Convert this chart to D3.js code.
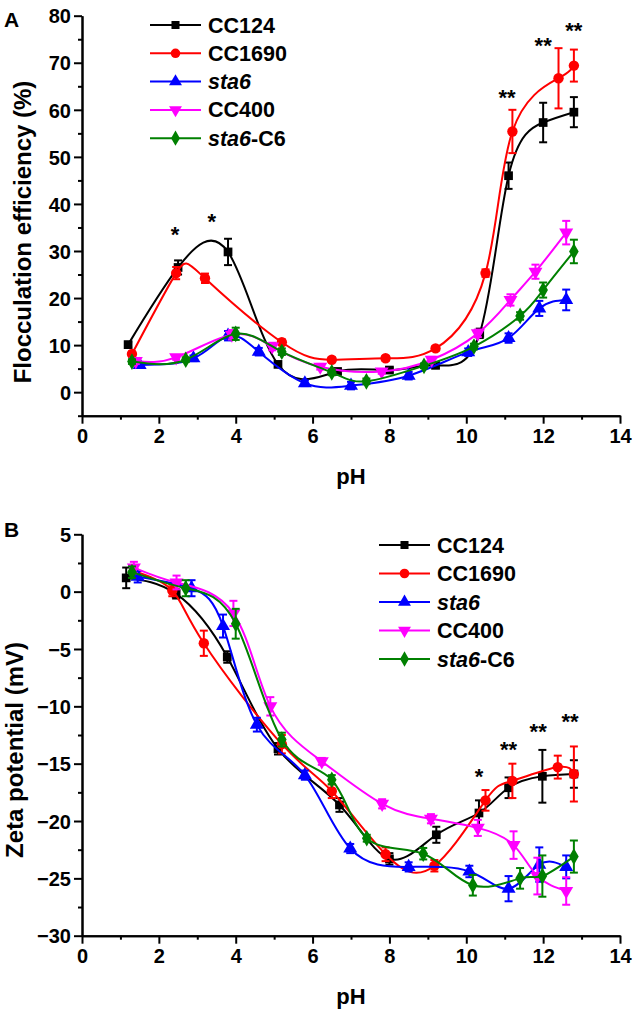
<!DOCTYPE html>
<html><head><meta charset="utf-8">
<script src="https://cdn.jsdelivr.net/npm/d3@7"></script>
<style>
body{margin:0;background:#fff;}
text{font-family:"Liberation Sans",Arial,sans-serif;font-weight:bold;}
</style></head>
<body><svg id="c" width="640" height="1012"></svg>
<script>
// ---------- data ----------
const seriesNames = ["CC124","CC1690","sta6","CC400","sta6-C6"];
const seriesColors = ["#000000","#ff0000","#0000ff","#ff00ff","#008000"];
const seriesSymbols = ["square","circle","triangle","triangleDown","diamond"];

// Panel A: flocculation efficiency (%)
const phA_CC124  = [1.2, 2.5, 3.8, 5.1, 6.65, 8.0, 9.2, 10.35, 11.1, 12.0, 12.8];
const valA_CC124 = [10.1, 26.5, 29.8, 5.9, 4.4, 4.7, 5.7, 12.5, 46.0, 57.3, 59.5];
const errA_CC124 = [0.6, 1.5, 2.8, 0.5, 0.5, 0.5, 0.5, 1.0, 2.8, 4.2, 3.2];
const phA_CC1690  = [1.3, 2.45, 3.2, 5.2, 6.5, 7.9, 9.2, 10.5, 11.2, 12.4, 12.8];
const valA_CC1690 = [8.1, 25.3, 24.2, 10.6, 6.9, 7.2, 9.3, 25.3, 55.4, 66.7, 69.4];
const errA_CC1690 = [0.5, 1.3, 1.0, 0.6, 0.5, 0.5, 0.5, 0.8, 4.6, 6.4, 3.4];
const phA_sta6  = [1.5, 2.9, 3.8, 4.6, 5.8, 7.0, 8.5, 10.05, 11.1, 11.9, 12.6];
const valA_sta6 = [5.8, 7.2, 12.0, 8.6, 1.9, 1.4, 3.5, 8.5, 11.5, 17.8, 19.6];
const errA_sta6 = [0.5, 0.6, 1.0, 0.8, 0.6, 0.8, 0.8, 0.8, 1.0, 1.6, 2.2];
const phA_CC400  = [1.4, 2.45, 3.9, 4.95, 6.2, 7.8, 9.1, 10.3, 11.15, 11.8, 12.6];
const valA_CC400 = [6.6, 7.4, 12.2, 9.7, 5.4, 4.4, 6.9, 12.5, 19.6, 25.6, 33.9];
const errA_CC400 = [0.6, 0.5, 1.0, 0.8, 0.6, 0.5, 0.6, 0.8, 1.2, 1.5, 2.5];
const phA_sta6C6  = [1.3, 2.7, 4.0, 5.2, 6.5, 7.4, 8.9, 10.2, 11.4, 12.0, 12.8];
const valA_sta6C6 = [6.5, 6.9, 12.4, 8.6, 4.2, 2.3, 5.6, 9.7, 16.2, 21.7, 29.9];
const errA_sta6C6 = [0.5, 0.5, 1.3, 0.7, 0.6, 0.6, 0.5, 0.6, 0.8, 1.6, 2.5];

// Panel B: zeta potential (mV)
const phB_CC124  = [1.15, 2.45, 3.78, 5.1, 6.7, 8.0, 9.22, 10.33, 11.1, 11.98, 12.8];
const valB_CC124 = [1.2, -0.2, -5.7, -13.7, -18.6, -23.3, -21.2, -19.3, -17.1, -16.1, -15.9];
const errB_CC124 = [0.9, 0.4, 0.5, 0.5, 0.6, 0.5, 0.7, 1.1, 0.9, 2.3, 1.2];
const phB_CC1690  = [1.35, 2.35, 3.17, 5.2, 6.5, 7.9, 9.17, 10.5, 11.2, 12.38, 12.8];
const valB_CC1690 = [1.8, 0.1, -4.5, -13.3, -17.4, -22.9, -23.9, -18.2, -16.5, -15.3, -15.9];
const errB_CC1690 = [0.5, 0.5, 1.1, 0.8, 0.6, 0.6, 0.5, 0.9, 1.5, 1.0, 2.4];
const phB_sta6  = [1.45, 2.85, 3.67, 4.55, 5.8, 6.98, 8.5, 10.08, 11.1, 11.9, 12.6];
const valB_sta6 = [1.3, 0.3, -3.0, -11.6, -16.0, -22.4, -24.0, -24.4, -25.9, -23.8, -24.0];
const errB_sta6 = [0.5, 0.7, 1.0, 0.6, 0.4, 0.4, 0.4, 0.5, 1.1, 1.5, 1.0];
const phB_CC400  = [1.35, 2.46, 3.94, 4.9, 6.24, 7.81, 9.08, 10.3, 11.23, 11.85, 12.6];
const valB_CC400 = [2.1, 0.8, -1.9, -10.0, -14.8, -18.5, -19.8, -20.6, -22.1, -24.8, -26.1];
const errB_CC400 = [0.5, 0.6, 1.1, 0.8, 0.3, 0.4, 0.4, 0.7, 1.2, 1.6, 1.2];
const phB_sta6C6  = [1.3, 2.7, 4.0, 5.2, 6.5, 7.41, 8.88, 10.17, 11.4, 11.98, 12.8];
const valB_sta6C6 = [1.7, 0.3, -2.8, -12.9, -16.4, -21.5, -22.85, -25.6, -25.0, -24.8, -23.1];
const errB_sta6C6 = [0.5, 0.7, 1.3, 0.6, 0.4, 0.3, 0.5, 0.9, 0.9, 1.8, 1.4];

// significance marks
const starsA_ph  = [2.42, 3.38, 11.06, 12.0, 12.8];
const starsA_val = [34.5, 37.3, 63.5, 74.7, 77.8];
const starsA_txt = ["*", "*", "**", "**", "**"];
const starsB_ph  = [10.33, 11.1, 11.87, 12.7];
const starsB_val = [-15.7, -13.4, -11.8, -10.95];
const starsB_txt = ["*", "**", "**", "**"];

// ticks
const xTicks = [0,2,4,6,8,10,12,14];
const xMinor = [1,3,5,7,9,11,13];
const yTicksA = [0,10,20,30,40,50,60,70,80];
const yMinorA = [-5,5,15,25,35,45,55,65,75];
const yTicksB = [-30,-25,-20,-15,-10,-5,0,5];
const yMinorB = [-27.5,-22.5,-17.5,-12.5,-7.5,-2.5,2.5];

// ---------- drawing ----------
const svg = d3.select("#c");
const symMap = {square:d3.symbolSquare, circle:d3.symbolCircle, triangle:d3.symbolTriangle, triangleDown:d3.symbolTriangle, diamond:d3.symbolDiamond};
const symSize = {square:76, circle:85, triangle:85, triangleDown:85, diamond:80};

function makeSeries(phs, vals, errs){ return phs.map((p,i)=>({x:p,y:vals[i],e:errs[i]})); }
const dataA = [
  makeSeries(phA_CC124,valA_CC124,errA_CC124),
  makeSeries(phA_CC1690,valA_CC1690,errA_CC1690),
  makeSeries(phA_sta6,valA_sta6,errA_sta6),
  makeSeries(phA_CC400,valA_CC400,errA_CC400),
  makeSeries(phA_sta6C6,valA_sta6C6,errA_sta6C6)];
const dataB = [
  makeSeries(phB_CC124,valB_CC124,errB_CC124),
  makeSeries(phB_CC1690,valB_CC1690,errB_CC1690),
  makeSeries(phB_sta6,valB_sta6,errB_sta6),
  makeSeries(phB_CC400,valB_CC400,errB_CC400),
  makeSeries(phB_sta6C6,valB_sta6C6,errB_sta6C6)];

function symbolPath(name, scale){
  return d3.symbol().type(symMap[name]).size(symSize[name]*(scale||1))();
}

function panel(cfg){
  const g = svg.append("g");
  const x = d3.scaleLinear().domain([0,14]).range([82,620]);
  const y = d3.scaleLinear().domain(cfg.yDomain).range(cfg.yRange);
  const y0 = cfg.yRange[0];

  // axes
  const yAx = g.append("g").attr("transform","translate(82,0)")
    .call(d3.axisLeft(y).tickValues(cfg.yTicks).tickSize(8).tickSizeOuter(0).tickPadding(3));
  g.append("g").attr("transform","translate(82,0)")
    .call(d3.axisLeft(y).tickValues(cfg.yMinor).tickSize(4).tickSizeOuter(0).tickFormat(""));
  const xAx = g.append("g").attr("transform",`translate(0,${y0})`)
    .call(d3.axisBottom(x).tickValues(xTicks).tickSize(8).tickSizeOuter(0).tickPadding(5));
  g.append("g").attr("transform",`translate(0,${y0})`)
    .call(d3.axisBottom(x).tickValues(xMinor).tickSize(4).tickSizeOuter(0).tickFormat(""));
  g.selectAll(".domain").attr("stroke","#000").attr("stroke-width",2);
  g.selectAll(".tick line").attr("stroke","#000").attr("stroke-width",2);
  yAx.selectAll("text").attr("font-size",20).attr("fill","#000").attr("dy","0.36em");
  xAx.selectAll("text").attr("font-size",20).attr("fill","#000");

  // titles
  g.append("text").attr("x",351).attr("y",y0+68).attr("text-anchor","middle")
    .attr("font-size",22).text("pH");
  g.append("text").attr("transform",`translate(${cfg.titleX},${cfg.titleY}) rotate(-90)`)
    .attr("text-anchor","middle").attr("font-size",24).text(cfg.title);
  g.append("text").attr("x",4).attr("y",cfg.letterY).attr("font-size",21).text(cfg.letter);

  // series
  const line = d3.line().x(d=>x(d.x)).y(d=>y(d.y)).curve(d3.curveNatural);
  cfg.data.forEach((s,i)=>{
    const col = seriesColors[i];
    const sg = g.append("g");
    sg.append("path").attr("d",line(s)).attr("fill","none").attr("stroke",col).attr("stroke-width",2);
    const eb = sg.selectAll(".eb").data(s).enter().append("g");
    eb.append("line").attr("x1",d=>x(d.x)).attr("x2",d=>x(d.x))
      .attr("y1",d=>y(d.y+d.e)).attr("y2",d=>y(d.y-d.e)).attr("stroke",col).attr("stroke-width",2);
    eb.append("line").attr("x1",d=>x(d.x)-4).attr("x2",d=>x(d.x)+4)
      .attr("y1",d=>y(d.y+d.e)).attr("y2",d=>y(d.y+d.e)).attr("stroke",col).attr("stroke-width",2);
    eb.append("line").attr("x1",d=>x(d.x)-4).attr("x2",d=>x(d.x)+4)
      .attr("y1",d=>y(d.y-d.e)).attr("y2",d=>y(d.y-d.e)).attr("stroke",col).attr("stroke-width",2);
    const sym = seriesSymbols[i];
    sg.selectAll(".m").data(s).enter().append("path")
      .attr("d",symbolPath(sym))
      .attr("transform",d=>`translate(${x(d.x)},${y(d.y)})${sym==="triangleDown"?" rotate(180)":""}`)
      .attr("fill",col);
  });

  // stars
  cfg.stars.forEach(st=>{
    g.append("text").attr("x",x(st.x)).attr("y",y(st.y)+12).attr("text-anchor","middle")
      .attr("font-size",22).text(st.t);
  });

  // legend
  const lg = g.append("g");
  seriesNames.forEach((nm,i)=>{
    const cy = cfg.legY + i*cfg.legDy;
    lg.append("line").attr("x1",cfg.legX).attr("x2",cfg.legX+51).attr("y1",cy).attr("y2",cy)
      .attr("stroke",seriesColors[i]).attr("stroke-width",2);
    const sym = seriesSymbols[i];
    lg.append("path").attr("d",symbolPath(sym,0.85))
      .attr("transform",`translate(${cfg.legX+25.5},${cy})${sym==="triangleDown"?" rotate(180)":""}`)
      .attr("fill",seriesColors[i]);
    const t = lg.append("text").attr("x",cfg.legX+58).attr("y",cy+7.5).attr("font-size",21.5);
    if(nm==="sta6"){ t.append("tspan").attr("font-style","italic").text("sta6"); }
    else if(nm==="sta6-C6"){ t.append("tspan").attr("font-style","italic").text("sta6"); t.append("tspan").text("-C6"); }
    else t.text(nm);
  });
}

panel({yDomain:[-5,80], yRange:[415.7,15.7], yTicks:yTicksA, yMinor:yMinorA,
  title:"Flocculation efficiency (%)", titleX:31, titleY:232, letter:"A", letterY:27,
  data:dataA, stars:starsA_ph.map((p,i)=>({x:p,y:starsA_val[i],t:starsA_txt[i]})),
  legX:150, legY:25, legDy:28.3});
panel({yDomain:[-30,5], yRange:[935.7,534.3], yTicks:yTicksB, yMinor:yMinorB,
  title:"Zeta potential (mV)", titleX:23, titleY:750, letter:"B", letterY:537,
  data:dataB, stars:starsB_ph.map((p,i)=>({x:p,y:starsB_val[i],t:starsB_txt[i]})),
  legX:379, legY:545, legDy:28.5});
</script></body></html>
